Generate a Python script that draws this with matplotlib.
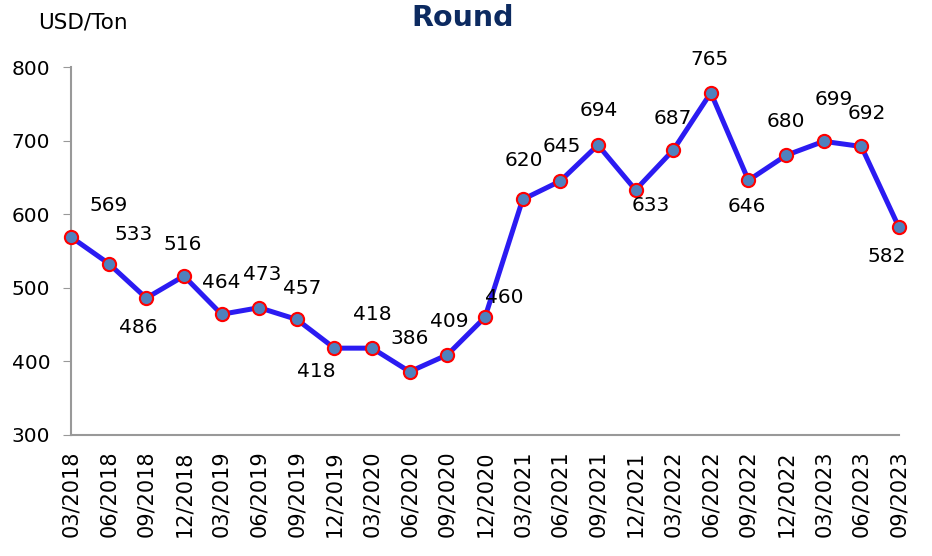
import matplotlib.pyplot as plt

periods = ["03/2018", "06/2018", "09/2018", "12/2018", "03/2019", "06/2019",
           "09/2019", "12/2019", "03/2020", "06/2020", "09/2020", "12/2020",
           "03/2021", "06/2021", "09/2021", "12/2021", "03/2022", "06/2022",
           "09/2022", "12/2022", "03/2023", "06/2023", "09/2023"]
prices = [569, 533, 486, 516, 464, 473, 457, 418, 418, 386, 409, 460,
          620, 645, 694, 633, 687, 765, 646, 680, 699, 692, 582]

# label offsets in points (dx, dy)
offsets = [(27, 23), (18, 21), (-6, -21), (-1, 23), (0, 23), (2, 24),
           (4, 22), (-13, -17), (0, 24), (0, 24), (1, 24), (14, 14),
           (1, 28), (1, 25), (1, 25), (11, -11), (0, 23), (-1, 24),
           (-1, -19), (0, 24), (7, 30), (4, 24), (-9, -21)]

fig = plt.figure(figsize=(9.32, 5.56), dpi=100)
ax = fig.add_axes([71/932, 1-435/556, (899-71)/932, (435-67)/556])

x = list(range(len(prices)))
ax.plot(x, prices, color="#2B1BF2", lw=3.6, marker="o", ms=9.5,
        mfc="#4F81BD", mec="#FF0000", mew=1.5, clip_on=False, zorder=3)

for i, v in enumerate(prices):
    ax.annotate(str(v), (i, v), xytext=offsets[i], textcoords="offset points",
                ha="center", va="center", fontsize=14.5)

ax.set_xlim(0, len(prices) - 1)
ax.set_ylim(300, 800)
ax.set_yticks([300, 400, 500, 600, 700, 800])
ax.set_xticks(x)
ax.set_xticklabels(periods, rotation=90, fontsize=15)
ax.tick_params(axis="y", labelsize=14.5, length=6, color="#999999", pad=9)
ax.tick_params(axis="x", length=0, pad=11)
for s in ["top", "right"]:
    ax.spines[s].set_visible(False)
for s in ["left", "bottom"]:
    ax.spines[s].set_color("#999999")
    ax.spines[s].set_linewidth(1.5)

fig.text(0.496, 0.968, "Round", ha="center", va="center", fontsize=20.5,
         fontweight="bold", color="#0C2A60")
fig.text(38/932, 1-22/556, "USD/Ton", ha="left", va="center", fontsize=15.5)

fig.savefig("out.png", dpi=100)
